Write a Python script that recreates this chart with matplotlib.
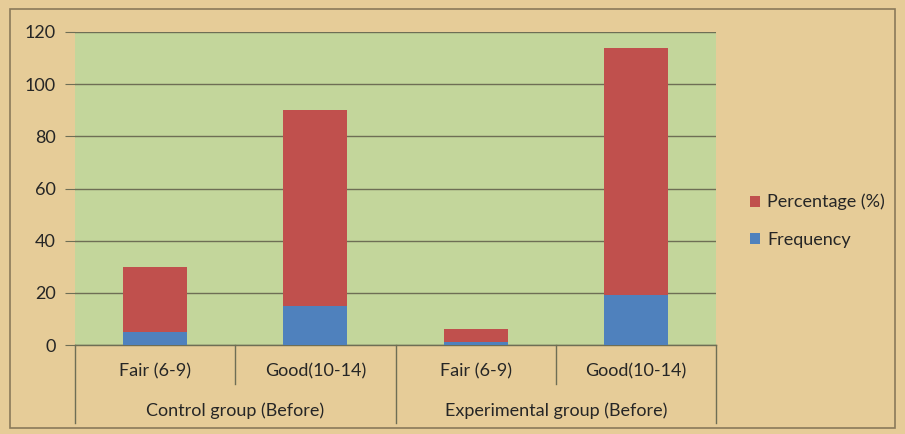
import matplotlib
matplotlib.use("Agg")
import matplotlib.pyplot as plt
from matplotlib.patches import Rectangle

categories = ["Fair (6-9)", "Good(10-14)", "Fair (6-9)", "Good(10-14)"]
groups = ["Control group (Before)", "Experimental group (Before)"]
frequency = [5, 15, 1, 19]
percentage = [25, 75, 5, 95]
yticks = [0, 20, 40, 60, 80, 100, 120]

plt.rcParams['font.family'] = ['Lato', 'DejaVu Sans']

BG = "#E6CC98"
PLOT = "#C3D69B"
GRID = "#6E6E55"
RED = "#C0504D"
BLUE = "#4F81BD"
TXT = "#262626"
FS = 13

fig = plt.figure(figsize=(9.05, 4.34), dpi=100)
fig.patch.set_facecolor(BG)
fig.patches.append(Rectangle((10/905, 1-428/434), 895/905 - 10/905, (428-9)/434,
                             transform=fig.transFigure, fill=False,
                             edgecolor="#8a7a5a", linewidth=1.2))

ax = fig.add_axes([75/905, 1-345/434, (716-75)/905, (345-32)/434])
ax.set_facecolor(PLOT)

x = list(range(len(categories)))
ax.bar(x, frequency, width=0.4, color=BLUE, label="Frequency", zorder=3)
ax.bar(x, percentage, width=0.4, bottom=frequency, color=RED,
       label="Percentage (%)", zorder=3)

ax.set_xlim(-0.5, 3.5)
ax.set_ylim(0, 120)
ax.set_yticks(yticks)
ax.set_yticklabels([str(v) for v in yticks], fontsize=FS, color=TXT)
ax.yaxis.grid(True, color=GRID, linewidth=1.0, zorder=0)
for s in ["top", "right", "left"]:
    ax.spines[s].set_visible(False)
ax.spines["bottom"].set_color(GRID)
ax.spines["bottom"].set_linewidth(1.0)
ax.tick_params(axis="y", length=7, color=GRID, pad=7)
ax.tick_params(axis="x", length=0)
ax.set_xticks([])

trans = ax.get_xaxis_transform()
for i, c in enumerate(categories):
    ax.text(i, -0.085, c, transform=trans, ha="center", va="center",
            fontsize=FS, color=TXT)
for g, c in zip([0.5, 2.5], groups):
    ax.text(g, -0.21, c, transform=trans, ha="center", va="center",
            fontsize=FS, color=TXT)

# separators
for xv in [-0.5, 1.5, 3.5]:
    ax.plot([xv, xv], [0, -0.25], transform=trans, color=GRID, lw=1.0, clip_on=False)
for xv in [0.5, 2.5]:
    ax.plot([xv, xv], [0, -0.125], transform=trans, color=GRID, lw=1.0, clip_on=False)

handles, labels = ax.get_legend_handles_labels()
leg = fig.legend(handles[::-1], labels[::-1], loc="center left",
                 bbox_to_anchor=(734/905, 1-221/434), frameon=False,
                 fontsize=FS, handlelength=0.55, handleheight=0.55,
                 handletextpad=0.4, labelspacing=1.2, labelcolor=TXT)

fig.savefig("out.png", dpi=100, facecolor=BG)
